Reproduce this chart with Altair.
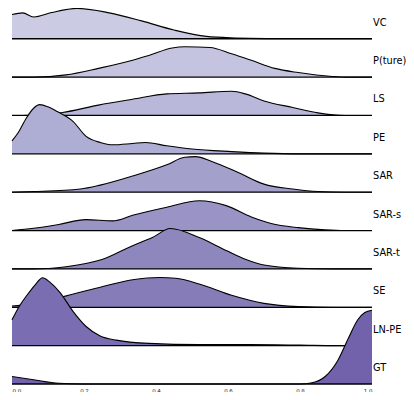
import altair as alt
import pandas as pd

names = ["VC", "P(ture)", "LS", "PE", "SAR", "SAR-s", "SAR-t", "SE", "LN-PE", "GT"]
colors = ["#cbcbe4", "#c4c4e0", "#b9b8da", "#aeadd4", "#a3a0cc",
          "#9994c5", "#8e87be", "#857cb8", "#7a6db1", "#7262ab"]

vc_x = [0, 0.03, 0.06, 0.11, 0.18, 0.27, 0.36, 0.45, 0.54, 0.62, 0.66, 0.75, 1.0]
vc_h = [25, 26.7, 22.4, 27, 31.3, 26.7, 18.4, 9, 2.4, 0.8, 0.4, 0, 0]

pt_x = [0, 0.06, 0.15, 0.24, 0.335, 0.38, 0.445, 0.48, 0.55, 0.61, 0.665, 0.73, 0.795, 0.89, 0.93, 1.0]
pt_h = [0, 0, 2.3, 9, 17.3, 22.3, 30, 31.3, 30.5, 24, 17.3, 9, 4.7, 0.7, 0, 0]

ls_x = [0, 0.05, 0.1, 0.14, 0.24, 0.335, 0.43, 0.52, 0.61, 0.65, 0.70, 0.78, 0.85, 0.925, 1.0]
ls_h = [0, 0.3, 1.0, 3, 10.7, 16.7, 22.3, 23.3, 25, 22, 15, 8.3, 2.7, 0, 0]

pe_x = [0, 0.017, 0.04, 0.06, 0.077, 0.1, 0.127, 0.17, 0.205, 0.245, 0.28, 0.335, 0.37, 0.43, 0.5, 0.61, 0.7, 0.8, 1.0]
pe_h = [13.3, 21.7, 37, 47, 50.7, 48.5, 43.3, 33.3, 18.3, 11.7, 9.3, 10.7, 11.7, 8.3, 5, 2.3, 0.7, 0, 0]

sar_x = [0, 0.06, 0.19, 0.245, 0.335, 0.43, 0.48, 0.51, 0.555, 0.63, 0.70, 0.78, 0.85, 0.925, 1.0]
sar_h = [0, 0.7, 3.3, 7.3, 16.7, 28.3, 36, 36.7, 31.7, 20, 8.3, 3.3, 0.7, 0, 0]

sars_x = [0, 0.06, 0.13, 0.205, 0.28, 0.335, 0.43, 0.52, 0.595, 0.665, 0.72, 0.795, 0.87, 0.925, 1.0]
sars_h = [0, 2.3, 6.3, 11.3, 10, 15.7, 24, 30.7, 25.7, 14, 7.3, 3, 0.7, 0, 0]

sart_x = [0, 0.06, 0.15, 0.215, 0.25, 0.335, 0.39, 0.44, 0.52, 0.595, 0.65, 0.70, 0.795, 0.89, 1.0]
sart_h = [0, 0, 2.3, 6.3, 9.7, 24, 32.3, 41.7, 32.3, 19, 9.7, 4, 0.7, 0, 0]

se_x = [0, 0.05, 0.1, 0.14, 0.245, 0.335, 0.41, 0.455, 0.52, 0.61, 0.70, 0.795, 0.89, 1.0]
se_h = [1.3, 3, 6.5, 10.7, 20.7, 28.3, 30.7, 30, 24, 12.3, 4, 0.7, 0, 0]

lnpe_x = [0, 0.022, 0.041, 0.065, 0.085, 0.105, 0.133, 0.17, 0.205, 0.245, 0.29, 0.38, 0.52, 0.66, 0.8, 0.9, 1.0]
lnpe_h = [26.7, 41.7, 51.7, 63, 70, 65.5, 55, 35, 20, 10, 5.7, 2.3, 1, 1, 0.5, 0, 0]

gt_x = [0, 0.06, 0.13, 0.195, 0.8, 0.83, 0.87, 0.905, 0.935, 0.96, 0.98, 1.0]
gt_h = [7.7, 4.3, 0.7, 0, 0, 1, 7.7, 24.3, 47.7, 66, 73.7, 76]

knots = [(vc_x, vc_h), (pt_x, pt_h), (ls_x, ls_h), (pe_x, pe_h), (sar_x, sar_h),
         (sars_x, sars_h), (sart_x, sart_h), (se_x, se_h), (lnpe_x, lnpe_h), (gt_x, gt_h)]

tick_values = [0.0, 0.2, 0.4, 0.6, 0.8, 1.0]

S = 39.55  # row spacing in density units
rows = []
for i, (name, (xs_, hs_)) in enumerate(zip(names, knots)):
    for x, h in zip(xs_, hs_):
        rows.append({"name": name, "x": x, "top": h - i * S, "base": -i * S})
df = pd.DataFrame(rows)
lab = pd.DataFrame({"name": names, "base": [-i * S for i in range(len(names))],
                    "x0": [0.0] * len(names), "x1": [1.0] * len(names)})

xscale = alt.Scale(domain=[0, 1], nice=False, zero=False)
yscale = alt.Scale(domain=[-9 * S, 31.7], nice=False, zero=False)
xaxis = alt.Axis(values=tick_values, format=".1f", title=None, grid=False, domain=False,
                 ticks=False, labelFontSize=5.5, labelFont="DejaVu Sans", labelColor="#222222",
                 labelPadding=4)

layers = []
for i, name in enumerate(names):
    sub = df[df["name"] == name]
    area = alt.Chart(sub).mark_area(color=colors[i], opacity=1, interpolate="monotone").encode(
        x=alt.X("x:Q", scale=xscale, axis=xaxis),
        y=alt.Y("top:Q", scale=yscale, axis=None),
        y2="base:Q",
    )
    line = alt.Chart(sub).mark_line(color="black", strokeWidth=1.1, interpolate="monotone").encode(
        x=alt.X("x:Q", scale=xscale, axis=xaxis),
        y=alt.Y("top:Q", scale=yscale, axis=None),
    )
    rule = alt.Chart(lab[lab["name"] == name]).mark_rule(color="black", strokeWidth=1.3).encode(
        x=alt.X("x0:Q", scale=xscale, axis=xaxis),
        x2="x1:Q",
        y=alt.Y("base:Q", scale=yscale, axis=None),
    )
    layers += [area, line, rule]

text = alt.Chart(lab).mark_text(align="left", baseline="middle", dx=1, dy=-16,
                                fontSize=9.8, font="DejaVu Sans", color="black").encode(
    x=alt.X("x1:Q", scale=xscale, axis=xaxis),
    y=alt.Y("base:Q", scale=yscale, axis=None),
    text="name:N",
)
layers.append(text)

chart = alt.layer(*layers).properties(
    width=360, height=376, autosize="none",
    padding={"left": 4, "top": 0, "right": 34, "bottom": 8},
).configure_view(strokeWidth=0)

chart.save("out.html", embed_options={"renderer": "svg", "actions": False})
